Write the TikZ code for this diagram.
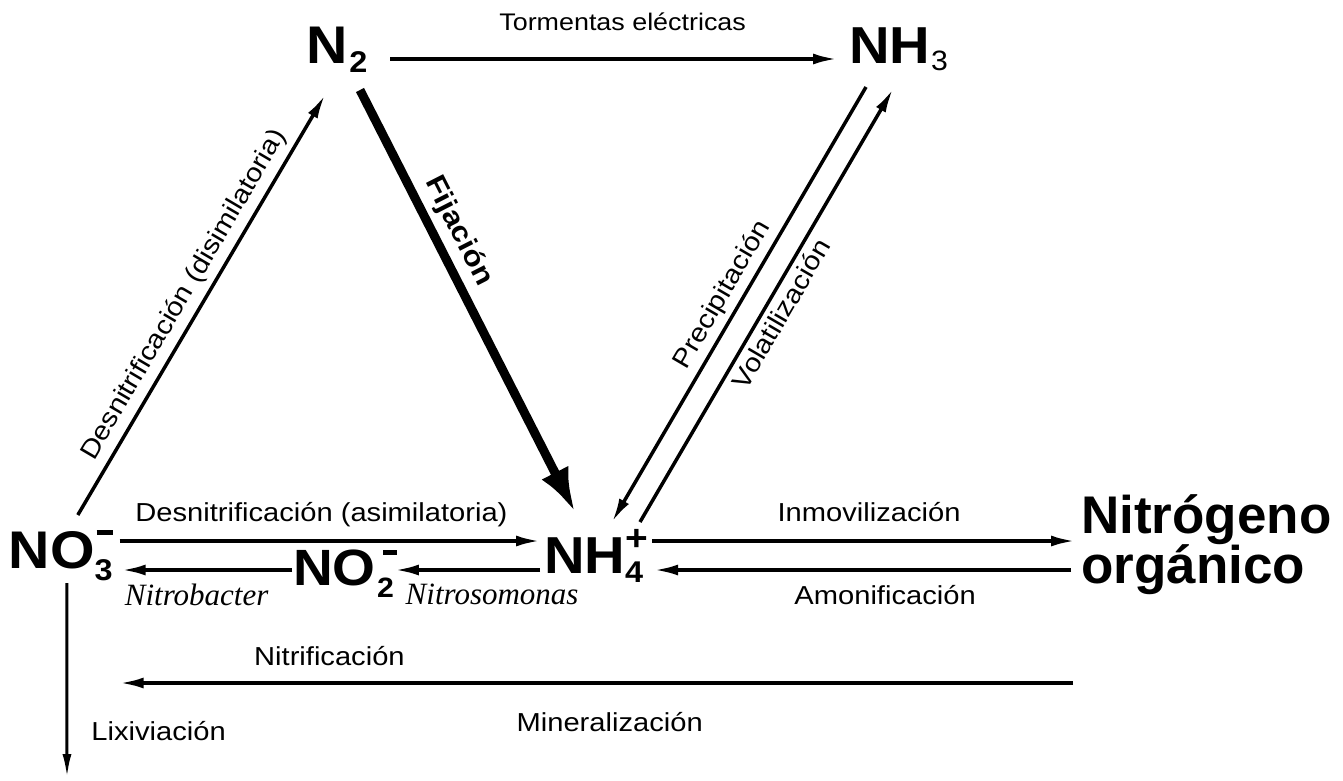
\documentclass[tikz,border=0pt]{standalone}
\usepackage{fontspec}
\setmainfont{Liberation Sans}
\newfontfamily\chemf{Liberation Sans}[FakeStretch=1.08]
\newfontfamily\labf{Liberation Sans}[FakeStretch=1.12]
\newfontfamily\itf{Liberation Serif}
\usetikzlibrary{arrows.meta}
\newcommand{\fsz}[1]{\fontsize{#1}{#1}\selectfont}
\tikzset{
  arr/.style={line width=3.5pt, -{Latex[length=24pt,width=11pt]}},
  fij/.style={line width=9pt, -{Latex[length=44pt,width=30pt]}},
  lab/.style={font=\labf\fsz{26}, inner sep=0pt},
  fijlab/.style={font=\labf\bfseries\fsz{28}, inner sep=0pt},
  spec/.style={font=\itf\itshape\fsz{31}, inner sep=0pt},
  chem/.style={font=\chemf\bfseries, inner sep=0pt, outer sep=0pt, anchor=base west},
}
\begin{document}
\begin{tikzpicture}[x=1pt,y=-1pt]
\path[use as bounding box, fill=white] (0,0) rectangle (1343,780);

% species
\node[chem] (n2) at (306,63) {\fsz{53}N\kern2pt\raisebox{-9pt}{\fsz{30}2}};
\node[chem] (nh3) at (849,63) {\fsz{52}NH\kern1pt\raisebox{-7pt}{\mdseries\fsz{28}3}};
\node[chem] (no3) at (8.8,568) {\fsz{53}NO\rlap{\raisebox{33pt}{\kern2pt\rule{16pt}{5pt}}}\raisebox{-12pt}{\fsz{30}3}};
\node[chem] (no2) at (293,585) {\fsz{51}NO\kern1.5pt\rlap{\raisebox{30pt}{\kern6pt\rule{14pt}{5pt}}}\raisebox{-12pt}{\fsz{28}2}};
\node[chem] (nh4) at (544,573) {\fsz{52}NH\rlap{\raisebox{23pt}{\fsz{36}+}}\raisebox{-9pt}{\fsz{30}4}};
\node[inner sep=0pt, anchor=base west, font=\bfseries\fsz{53}] (norg) at (1081,533)
  {\vtop{\baselineskip=50pt\lineskiplimit=-100pt\hbox{Nitrógeno}\hbox{orgánico}}};
\coordinate (lixend) at (67,778);

% top
\draw[arr] ([xshift=23pt,yshift=4pt]n2.base east) -- ([xshift=-12pt,yshift=4pt]nh3.base west)
  node[lab, font=\labf\fsz{24}, pos=0.52, above=27pt] (ltor) {Tormentas eléctricas};

% triangle sides
\draw[arr] ([xshift=69pt,yshift=53pt]no3.base west) -- ([xshift=19pt,yshift=-32pt]n2.base west)
  node[lab, pos=0.5, sloped, above=6pt] (ldis) {Desnitrificación (disimilatoria)};
\draw[fij] ([xshift=54pt,yshift=-27pt]n2.base west) -- ([xshift=31pt,yshift=61pt]nh4.base west)
  node[fijlab, pos=0.36, sloped, above=6pt] (lfij) {Fijación};
\draw[arr] ([xshift=17pt,yshift=-24pt]nh3.base west) -- ([xshift=68pt,yshift=51pt]nh4.base west)
  node[lab, pos=0.5, sloped, above=5pt] (lpre) {Precipitación};
\draw[arr] ([xshift=96pt,yshift=51pt]nh4.base west) -- ([xshift=44pt,yshift=-26pt]nh3.base west)
  node[lab, pos=0.5, sloped, below=5pt] (lvol) {Volatilización};

% row
\draw[arr] ([xshift=7pt,yshift=27pt]no3.base east) -- ([xshift=-4pt,yshift=32pt]nh4.base west)
  node[lab, pos=0.48, above=12.5pt] (lasi) {Desnitrificación (asimilatoria)};
\draw[arr] ([xshift=-1pt,yshift=15pt]no2.base west) -- ([xshift=9pt,yshift=-2pt]no3.base east)
  node[spec, pos=0.56, below=12pt] (lnb) {Nitrobacter};
\draw[arr] ([xshift=-4pt,yshift=3pt]nh4.base west) -- ([xshift=1pt,yshift=15pt]no2.base east)
  node[spec, pos=0.33, below=12.5pt] (lns) {Nitrosomonas};
\draw[arr] ([xshift=9pt,yshift=32pt]nh4.base east) -- ([xshift=-6pt,yshift=-8pt]norg.base west)
  node[lab, pos=0.513, above=18pt] (linm) {Inmovilización};
\draw[arr] ([xshift=-10pt,yshift=-37pt]norg.base west) -- ([xshift=11pt,yshift=3pt]nh4.base east)
  node[lab, pos=0.446, below=14pt] (lamo) {Amonificación};

% bottom
\draw[arr] ([xshift=-8pt,yshift=-150pt]norg.base west) -- ([xshift=7pt,yshift=-115pt]no3.base east)
  node[lab, pos=0.78, above=16pt] (lnit) {Nitrificación}
  node[lab, pos=0.486, below=28pt] (lmin) {Mineralización};
\draw[line width=3pt, -{Latex[length=24pt,width=9pt]}] ([xshift=58pt,yshift=-15pt]no3.base west) -- (lixend)
  node[lab, pos=0.76, right=23pt] (llix) {Lixiviación};
\end{tikzpicture}
\end{document}
